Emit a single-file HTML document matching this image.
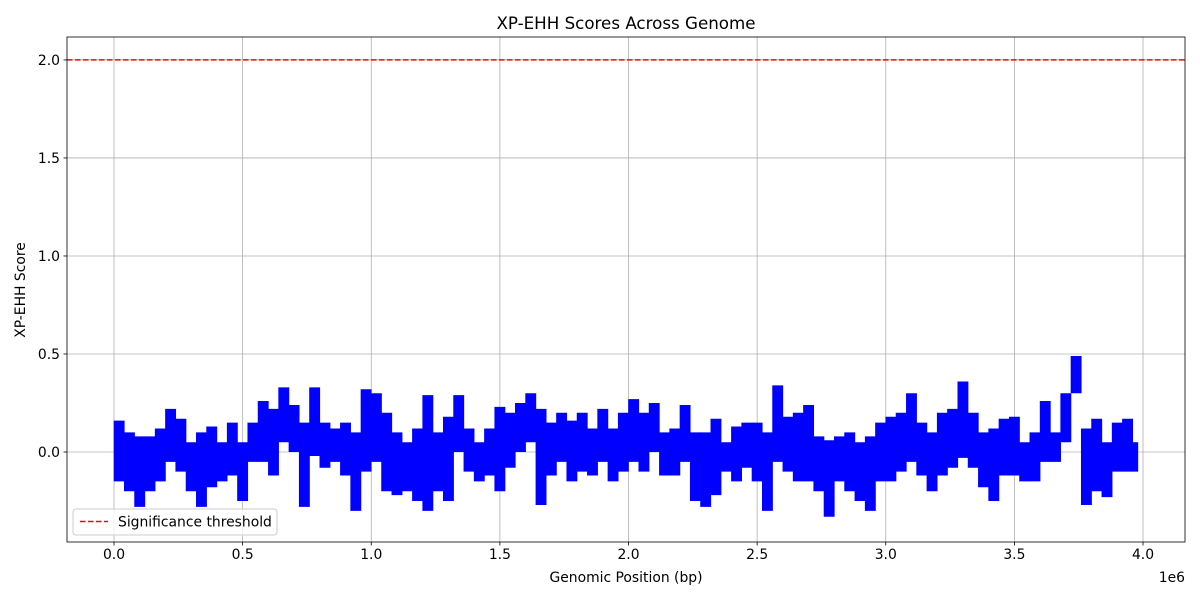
<!DOCTYPE html>
<html><head><meta charset="utf-8"><style>
body{margin:0;background:#fff;font-family:"Liberation Sans","DejaVu Sans",sans-serif}
svg text{font-family:"DejaVu Sans","Liberation Sans",sans-serif;fill:#000}
</style></head><body>
<svg id="chart" width="1200" height="600" viewBox="0 0 1200 600" xmlns="http://www.w3.org/2000/svg">
<rect width="1200" height="600" fill="#fff"/>
<g id="grid"></g>
<g id="marks"></g>
<line id="thr" stroke="#ff0000" stroke-width="1.5" stroke-dasharray="5.5,2.5"/>
<rect x="67" y="37" width="1118" height="505" fill="none" stroke="#000" stroke-width="0.8"/>
<g id="xticks"></g>
<g id="yticks"></g>
<text x="626" y="29" font-size="16.7" text-anchor="middle">XP-EHH Scores Across Genome</text>
<text x="626" y="582" font-size="13.9" text-anchor="middle">Genomic Position (bp)</text>
<text x="1185" y="582" font-size="13.9" text-anchor="end">1e6</text>
<text transform="translate(25,290) rotate(-90)" font-size="13.9" text-anchor="middle">XP-EHH Score</text>
<g>
<rect x="73" y="509" width="204" height="26" rx="3" fill="#fff" fill-opacity="0.8" stroke="#ccc"/>
<line x1="80" y1="521.5" x2="108" y2="521.5" stroke="#ff0000" stroke-width="1.5" stroke-dasharray="5.5,2.5"/>
<text x="118" y="526.5" font-size="13.9">Significance threshold</text>
</g>
</svg>
<script>
const binStarts=[0,0.04,0.08,0.12,0.16,0.2,0.24,0.28,0.32,0.36,0.4,0.44,0.48,0.52,0.56,0.6,0.64,0.68,0.72,0.76,0.8,0.84,0.88,0.92,0.96,1.0,1.04,1.08,1.12,1.16,1.2,1.24,1.28,1.32,1.36,1.4,1.44,1.48,1.52,1.56,1.6,1.64,1.68,1.72,1.76,1.8,1.84,1.88,1.92,1.96,2.0,2.04,2.08,2.12,2.16,2.2,2.24,2.28,2.32,2.36,2.4,2.44,2.48,2.52,2.56,2.6,2.64,2.68,2.72,2.76,2.8,2.84,2.88,2.92,2.96,3.0,3.04,3.08,3.12,3.16,3.2,3.24,3.28,3.32,3.36,3.4,3.44,3.48,3.52,3.56,3.6,3.64,3.68,3.72,3.76,3.8,3.84,3.88,3.92,3.96];
const binHigh=[0.16,0.1,0.08,0.08,0.12,0.22,0.17,0.05,0.1,0.13,0.05,0.15,0.05,0.15,0.26,0.22,0.33,0.24,0.15,0.33,0.15,0.12,0.15,0.1,0.32,0.3,0.2,0.1,0.05,0.12,0.29,0.1,0.18,0.29,0.12,0.05,0.12,0.23,0.2,0.25,0.3,0.22,0.15,0.2,0.16,0.2,0.12,0.22,0.12,0.2,0.27,0.2,0.25,0.1,0.12,0.24,0.1,0.1,0.17,0.05,0.13,0.15,0.15,0.1,0.34,0.18,0.2,0.24,0.08,0.06,0.08,0.1,0.05,0.08,0.15,0.18,0.2,0.3,0.15,0.1,0.2,0.22,0.36,0.2,0.1,0.12,0.17,0.18,0.05,0.1,0.26,0.1,0.3,0.49,0.12,0.17,0.05,0.15,0.17,0.05];
const binLow=[-0.15,-0.2,-0.28,-0.2,-0.15,-0.05,-0.1,-0.2,-0.28,-0.18,-0.15,-0.12,-0.25,-0.05,-0.05,-0.12,0.05,0.0,-0.28,-0.02,-0.08,-0.05,-0.12,-0.3,-0.1,-0.05,-0.2,-0.22,-0.2,-0.25,-0.3,-0.2,-0.25,0.0,-0.1,-0.15,-0.12,-0.2,-0.08,0.0,0.05,-0.27,-0.12,-0.05,-0.15,-0.1,-0.12,-0.05,-0.15,-0.1,-0.05,-0.1,0.0,-0.12,-0.12,-0.05,-0.25,-0.28,-0.22,-0.1,-0.15,-0.08,-0.15,-0.3,-0.05,-0.1,-0.15,-0.15,-0.2,-0.33,-0.15,-0.2,-0.25,-0.3,-0.15,-0.15,-0.1,-0.05,-0.12,-0.2,-0.12,-0.08,-0.03,-0.08,-0.18,-0.25,-0.12,-0.12,-0.15,-0.15,-0.05,-0.05,0.05,0.3,-0.27,-0.2,-0.23,-0.1,-0.1,-0.1];
const xTicks=[0,0.5,1,1.5,2,2.5,3,3.5,4];
const xTickLabels=["0.0","0.5","1.0","1.5","2.0","2.5","3.0","3.5","4.0"];
const yTicks=[0,0.5,1,1.5,2];
const yTickLabels=["0.0","0.5","1.0","1.5","2.0"];
const threshold=[2.0];
const binWidth=0.04;

const X0=-0.1827,X1=4.1632,Y0=-0.459,Y1=2.117;
const L=67,R=1185,T=37,B=542;
function xs(v){return L+(v-X0)/(X1-X0)*(R-L);}
function ys(v){return B-(v-Y0)/(Y1-Y0)*(B-T);}
const NS="http://www.w3.org/2000/svg";
function mk(tag,attrs,parent){const e=document.createElementNS(NS,tag);for(const k in attrs)e.setAttribute(k,attrs[k]);parent.appendChild(e);return e;}
const grid=document.getElementById('grid'),xt=document.getElementById('xticks'),yt=document.getElementById('yticks'),marks=document.getElementById('marks');
xTicks.forEach((t,i)=>{const x=xs(t);
 const g=mk('line',{x1:x,x2:x,y1:T,y2:B,stroke:'#b0b0b0','stroke-width':0.8},grid);
 
 
 const tk=mk('line',{x1:x,x2:x,y1:B,y2:B+3.5,stroke:'#000','stroke-width':0.8},xt);
 
 
 const tx=mk('text',{x:x,y:B+17,'font-size':13.9,'text-anchor':'middle'},xt);tx.textContent=xTickLabels[i];
 
 
});
yTicks.forEach((t,i)=>{const y=ys(t);
 const g=mk('line',{x1:L,x2:R,y1:y,y2:y,stroke:'#b0b0b0','stroke-width':0.8},grid);
 
 
 const tk=mk('line',{x1:L-3.5,x2:L,y1:y,y2:y,stroke:'#000','stroke-width':0.8},yt);
 
 
 const tx=mk('text',{x:L-7,y:y+5,'font-size':13.9,'text-anchor':'end'},yt);tx.textContent=yTickLabels[i];
 
 
});
binStarts.forEach((s,i)=>{
 const xa=xs(s),xb=xs(Math.min(s+binWidth,3.98));
 const cx=(xa+xb)/2,w=Math.max(3,xb-xa+0.6);
 const ln=mk('line',{x1:cx,x2:cx,y1:ys(binHigh[i]),y2:ys(binLow[i]),stroke:'#0000ff','stroke-width':w,'stroke-linecap':'butt'},marks);
 
 
});
const th=document.getElementById('thr');
th.setAttribute('x1',L);th.setAttribute('x2',R);th.setAttribute('y1',ys(threshold[0]));th.setAttribute('y2',ys(threshold[0]));
</script>
</body></html>
